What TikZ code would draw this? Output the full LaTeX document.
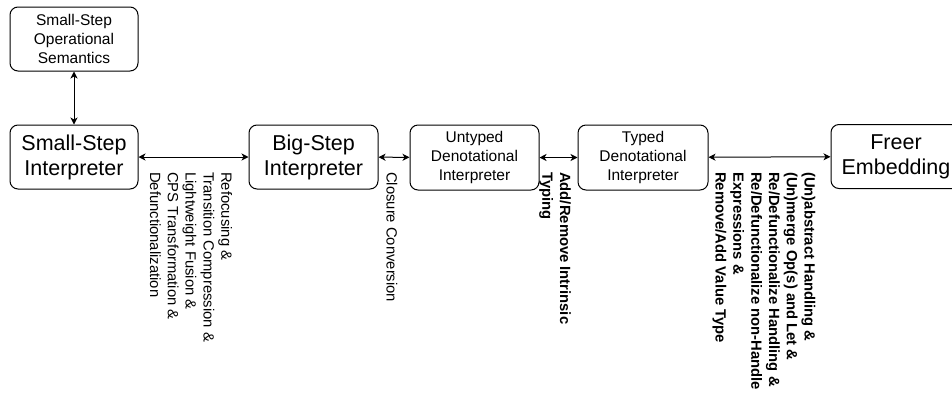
\documentclass[tikz,border=0pt]{standalone}
\usepackage{fontspec}
\setmainfont{Liberation Sans}
\usetikzlibrary{arrows.meta}
\begin{document}
\begin{tikzpicture}[x=1pt,y=-1pt,
  box/.style={draw, line width=1pt, rounded corners=8pt, minimum width=128pt,
    minimum height=64pt, inner sep=0pt, align=center},
  bigtxt/.style={font=\fontsize{21.5}{25}\selectfont},
  smalltxt/.style={font=\fontsize{15.5}{19}\selectfont},
  edgelabel/.style={rotate=-90, anchor=west, align=left, inner sep=0pt,
    font=\fontsize{14.8}{17.8}\selectfont},
  boldlabel/.style={edgelabel, font=\fontsize{14.8}{17.8}\selectfont\bfseries},
  link/.style={line width=1pt,
    {Stealth[length=7pt,width=7pt,inset=2pt]}-{Stealth[length=7pt,width=7pt,inset=2pt]}}
]
\useasboundingbox (0,0) rectangle (952,394);
\clip (0,0) rectangle (952,394);

% stages of the derivation
\node[box, smalltxt] (sos) at (74,39) {Small-Step\\Operational\\Semantics};
\node[box, bigtxt] (ssi) at (74,157) {Small-Step\\Interpreter};
\node[box, bigtxt, minimum width=129pt] (bsi) at (313.5,157) {Big-Step\\Interpreter};
\node[box, smalltxt, minimum width=129pt, minimum height=65pt] (udi) at (474.5,157.5) {Untyped\\Denotational\\Interpreter};
\node[box, smalltxt, minimum width=130pt, minimum height=65pt] (tdi) at (643,157.5) {Typed\\Denotational\\Interpreter};
\node[box, bigtxt, minimum width=130pt] (fe) at (896,156.5) {Freer\\Embedding};

% transformations between stages
\draw[link] (sos) -- (ssi);
\draw[link] (ssi) -- (bsi);
\draw[link] (bsi) -- (udi);
\draw[link] (udi) -- (tdi);
\draw[link] (tdi) -- (fe);

% transformation names
\node[edgelabel] (l1) at (191,172) {Refocusing \&\\Transition Compression \&\\Lightweight Fusion \&\\CPS Transformation \&\\Defunctionalization};
\node[edgelabel] (l2) at (392,172) {Closure Conversion};
\node[boldlabel] (l3) at (555,172) {Add/Remove Intrinsic\\Typing};
\node[boldlabel] (l4) at (764,172) {(Un)abstract Handling \&\\(Un)merge Op(s) and Let \&\\Re/Defunctionalize Handling \&\\Re/Defunctionalize non-Handle\\Expressions \&\\Remove/Add Value Type};
\end{tikzpicture}
\end{document}
